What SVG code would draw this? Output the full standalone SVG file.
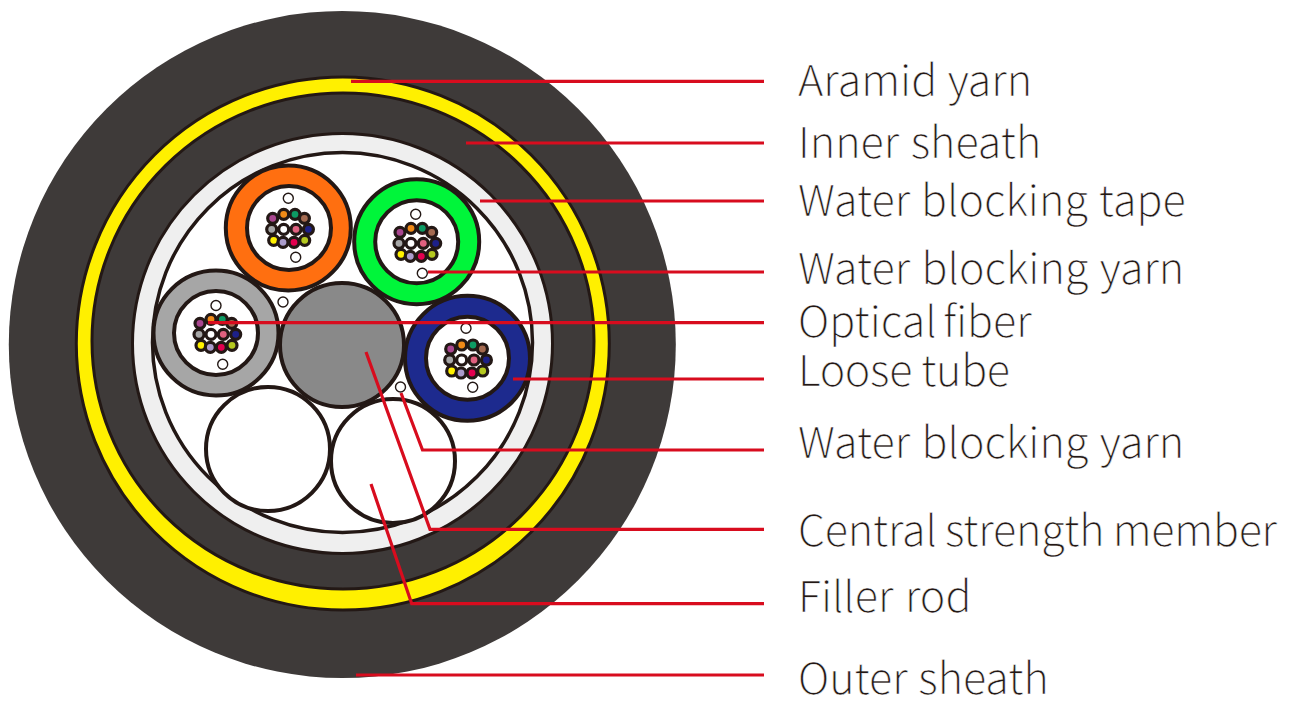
<svg xmlns="http://www.w3.org/2000/svg" width="1293" height="705" viewBox="0 0 1293 705">
<style>
.k{stroke:#231815;stroke-width:4}
.f{stroke:#231815;stroke-width:3.2}
.y{fill:#fff;stroke:#231815;stroke-width:1.4}
.l{fill:none;stroke:#d80c1e;stroke-width:3.2}
text{font-family:"Noto Sans CJK SC","Noto Sans",sans-serif;font-size:43px;font-weight:300;fill:#231815;stroke:#fff;stroke-width:.5}
</style>
<defs>
<g id="bundle">
<circle class="f" cx="-17" cy="-9.700" r="5" fill="#a9468f"/><circle class="f" cx="-6" cy="-13.700" r="5" fill="#f08a17"/><circle class="f" cx="5.300" cy="-13.700" r="5" fill="#0d9a63"/><circle class="f" cx="14.700" cy="-9.700" r="5" fill="#a46a50"/>
<circle class="f" cx="-18" cy="1.300" r="5" fill="#a7a7a7"/><circle class="f" cx="-6" cy="1.300" r="5" fill="#fff"/><circle class="f" cx="6.300" cy="1.300" r="5" fill="#e0617f"/><circle class="f" cx="18.700" cy="1.300" r="5" fill="#1d2088"/>
<circle class="f" cx="-16" cy="12.300" r="5" fill="#fff100"/><circle class="f" cx="-6.700" cy="14.300" r="5" fill="#ab9ccb"/><circle class="f" cx="4.300" cy="14.300" r="5" fill="#e4004f"/><circle class="f" cx="15" cy="12.300" r="5" fill="#b5c91f"/>
</g>
</defs>
<g id="cable">
<circle cx="342.300" cy="344.500" r="333.500" fill="#3e3a39"/>
<circle cx="342.800" cy="343.500" r="266.500" fill="#fff000" stroke="#231815" stroke-width="3"/>
<ellipse cx="343" cy="341" rx="251" ry="248" fill="#3e3a39" stroke="#231815" stroke-width="3"/>
<circle cx="342.500" cy="343.500" r="210" fill="#efefef" stroke="#231815" stroke-width="3"/>
<circle cx="342.500" cy="342.500" r="190" fill="#fff" stroke="#231815" stroke-width="3.500"/>
</g>
<g id="tube-orange"><circle class="k" cx="288.300" cy="228" r="62.500" fill="#ff6f10"/><circle class="k" cx="289" cy="228" r="42" fill="#fff"/><use href="#bundle" x="289.700" y="228"/><circle class="y" cx="288.300" cy="198.300" r="5"/><circle class="y" cx="295.700" cy="257.300" r="5"/></g>
<g id="tube-green"><circle class="k" cx="416.700" cy="241.700" r="62.500" fill="#00f53a"/><circle class="k" cx="416.700" cy="241.700" r="41.500" fill="#fff"/><use href="#bundle" x="417" y="242"/><circle class="y" cx="415.700" cy="214.300" r="5"/><circle class="y" cx="422.300" cy="273.300" r="5"/></g>
<g id="tube-gray"><circle class="k" cx="216" cy="333" r="62.500" fill="#a6a6a6"/><circle class="k" cx="216" cy="333" r="42" fill="#fff"/><use href="#bundle" x="217" y="333"/><circle class="y" cx="216" cy="305.500" r="5"/><circle class="y" cx="222.700" cy="364.300" r="5"/></g>
<g id="tube-blue"><circle class="k" cx="467.500" cy="358.300" r="62.500" fill="#1d2a8e"/><circle class="k" cx="467.500" cy="358.300" r="41.500" fill="#fff"/><use href="#bundle" x="467.700" y="358.700"/><circle class="y" cx="466" cy="328.300" r="5"/><circle class="y" cx="472.700" cy="387.300" r="5"/></g>
<g id="central-member"><circle class="k" cx="342" cy="345" r="62" fill="#898989"/></g>
<g id="filler-left"><circle class="k" cx="268" cy="449" r="62" fill="#fff"/></g>
<g id="filler-right"><circle class="k" cx="393" cy="461" r="62" fill="#fff"/></g>
<g id="yarns"><circle class="y" cx="283" cy="302" r="5"/><circle class="y" cx="400.500" cy="387" r="5"/></g>
<g id="connectors">
<path class="l" d="M351 81.300H764M466 143H764M480 201H764M428 272H764M208 322.700H764M513 379H764M401 393L422.500 450H764M366 352L430 529.300H764M371 484L411.700 603.700H764M356 675H764"/>
</g>
<g id="labels">
<text x="798" y="96" word-spacing="1">Aramid yarn</text>
<text x="798" y="158" word-spacing="2">Inner sheath</text>
<text x="798" y="216" word-spacing="1.500">Water blocking tape</text>
<text x="798" y="284" word-spacing="2">Water blocking yarn</text>
<text x="798" y="337" word-spacing="-3">Optical fiber</text>
<text x="798" y="386" letter-spacing="-.3">Loose tube</text>
<text x="798" y="458" word-spacing="2">Water blocking yarn</text>
<text x="798" y="546" word-spacing="-1" letter-spacing="-.2">Central strength member</text>
<text x="798" y="612" word-spacing="2">Filler rod</text>
<text x="798" y="694" word-spacing="1">Outer sheath</text>
</g>
</svg>
